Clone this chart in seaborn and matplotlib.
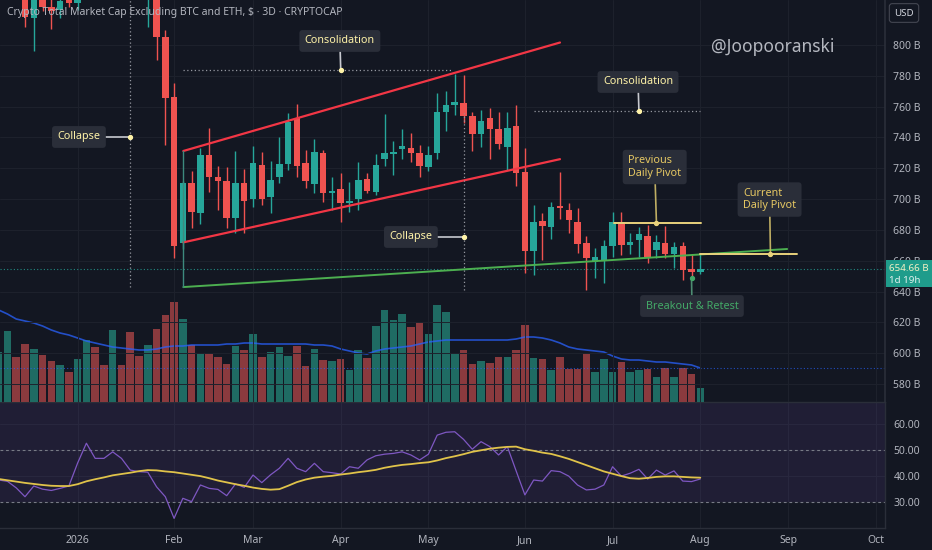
import numpy as np
import pandas as pd
import seaborn as sns
import matplotlib.pyplot as plt
from matplotlib.patches import Rectangle
from matplotlib.transforms import blended_transform_factory

# ---- data (3D bars, values in $B) ----
bar_start = "2025-12-03"

opens = [840, 850, 858, 840, 817.5, 838, 824.7, 822.7, 833, 827.3,
         833, 850, 842, 841, 848, 843, 836, 835, 845, 805,
         766.4, 671.7, 710.6, 690.8, 728.4, 714.1, 711.9, 687.5, 710.6, 699.8,
         722.1, 701.2, 714.1, 722.8, 752.4, 723.2, 709.8, 729.7, 704.1, 706.5,
         697.5, 699.8, 712.8, 704.8, 726.2, 729.5, 732.5, 733.3, 730.1, 720.6,
         729.7, 756.7, 761.0, 762.5, 753.9, 742.2, 752.4, 745.3, 734.0, 747.6,
         717.8, 666.0, 685.6, 682.1, 695.5, 692.9, 685.3, 671.7, 659.4, 659.8,
         669.7, 685.3, 670.2, 673.4, 676.0, 666.9, 671.3, 664.4, 669.5, 654.6,
         652.5]
highs = [856, 862, 860, 842, 845, 840, 832, 835, 838, 840,
         856, 855, 848, 853, 850, 846, 842, 852, 848, 809.7,
         775.1, 712.0, 718.4, 733.3, 745.9, 721.5, 720.6, 731.4, 719.3, 734.4,
         730.7, 724.9, 740.5, 755.7, 761.7, 731.8, 738.8, 731.8, 714.5, 716.7,
         711.3, 723.9, 716.7, 729.3, 755.2, 737.9, 745.5, 742.7, 735.1, 734.4,
         768.6, 770.3, 781.2, 780.5, 756.7, 757.8, 758.9, 756.7, 756.7, 761.1,
         733.0, 696.2, 690.8, 698.3, 717.8, 697.7, 694.0, 676.0, 668.1, 673.4,
         691.8, 691.8, 677.8, 682.1, 683.2, 676.7, 682.5, 672.3, 672.3, 664.4,
         664.4]
lows = [834, 845, 836, 811.7, 796.1, 822, 810.4, 817.5, 824.7, 822.7,
        831, 836, 835, 837, 838, 832, 831, 812, 790.3, 735.1,
        661.6, 667.6, 681.0, 683.8, 704.8, 692.9, 681.0, 677.8, 677.8, 694.7,
        696.2, 690.8, 710.2, 718.9, 714.5, 707.0, 703.7, 698.3, 692.9, 685.3,
        691.8, 692.9, 703.7, 702.6, 721.5, 715.6, 726.0, 723.9, 714.1, 718.4,
        725.8, 744.4, 754.6, 749.2, 731.4, 733.6, 725.8, 732.3, 718.9, 708.5,
        652.2, 650.7, 660.5, 673.9, 687.1, 678.2, 664.8, 641.0, 648.6, 645.3,
        662.6, 663.7, 664.4, 662.6, 658.7, 661.6, 661.6, 655.1, 647.5, 648.6,
        651.4]
closes = [850, 858, 840, 818.0, 838, 824.7, 822.1, 828.6, 827.3, 833,
          850, 842, 841, 848, 843, 836, 835, 845, 805.2, 765.8,
          669.5, 710.4, 691.4, 728.4, 714.1, 711.9, 687.5, 710.2, 698.9, 723.2,
          699.8, 712.4, 722.8, 750.2, 721.7, 711.7, 730.4, 704.1, 705.5, 697.7,
          699.0, 712.4, 705.4, 721.9, 729.7, 730.5, 734.6, 730.1, 721.7, 728.8,
          756.7, 761.1, 763.0, 753.9, 742.2, 750.9, 745.3, 735.7, 746.3, 717.1,
          666.3, 684.9, 682.5, 695.1, 694.5, 686.4, 670.6, 661.6, 662.6, 669.7,
          685.3, 670.2, 672.3, 677.2, 662.6, 672.3, 664.4, 668.7, 654.0, 652.9,
          654.66]

volumes = [50, 71, 45, 58, 53, 47, 41, 37, 30, 43,
           62, 55, 37, 72, 37, 70, 46, 57, 73, 87,
           100, 83, 57, 48, 48, 45, 38, 56, 52, 68,
           45, 50, 55, 46, 56, 36, 53, 42, 41, 43,
           32, 52, 44, 76, 92, 82, 88, 75, 80, 68,
           97, 90, 48, 52, 38, 41, 39, 45, 45, 52,
           77, 44, 43, 32, 45, 33, 33, 48, 30, 43,
           30, 40, 30, 32, 33, 25, 34, 25, 34, 28,
           14]
volume_ma = [92, 88, 83, 81, 79, 76, 72, 69, 67, 64,
             61, 59, 57, 55, 54, 53, 52, 52, 53, 55,
             56, 56, 57, 57, 57, 57, 58, 58, 59, 59,
             58, 58, 58, 58, 58, 58, 57, 57, 56, 53,
             51, 49, 48, 51, 53, 54, 55, 56, 58, 60,
             61, 62, 62, 62, 62, 62, 62, 62, 62, 63,
             65, 65, 64, 62, 59, 55, 53, 52, 51, 50,
             46, 43, 42, 42, 41, 40, 40, 39, 38, 37,
             34]

rsi = [38.5, 38.0, 35.5, 32.1, 36.2, 35.0, 34.5, 35.3, 36.2, 45.0,
       52.6, 46.8, 46.8, 49.3, 46.8, 42.3, 41.7, 41.5, 35.9, 32.1,
       23.8, 31.5, 30.2, 36.6, 35.3, 34.9, 32.5, 37.0, 35.7, 40.4,
       37.5, 40.5, 43.0, 46.8, 43.0, 41.7, 44.9, 41.7, 41.3, 40.8,
       43.6, 43.0, 46.2, 47.8, 48.4, 48.7, 49.3, 48.1, 46.2, 48.4,
       55.7, 56.8, 57.0, 54.1, 50.3, 53.2, 51.3, 48.1, 51.3, 42.0,
       32.8, 38.5, 38.1, 42.1, 41.7, 40.0, 36.6, 34.7, 35.0, 36.6,
       43.6, 40.0, 41.1, 42.6, 38.9, 42.3, 40.4, 42.0, 38.1, 37.9,
       38.9]
rsi_ma = [38.9, 38.4, 37.9, 37.4, 37.0, 36.6, 36.3, 36.2, 36.2, 36.9,
          38.0, 38.8, 39.5, 40.3, 40.8, 41.3, 41.9, 42.3, 42.2, 41.8,
          41.5, 41.0, 40.5, 40.0, 39.2, 38.3, 37.6, 36.9, 36.3, 35.6,
          35.1, 34.8, 35.0, 36.3, 37.7, 38.7, 39.4, 39.8, 40.1, 40.6,
          41.0, 41.5, 41.9, 42.4, 43.2, 43.8, 44.3, 44.6, 45.0, 45.3,
          46.0, 46.9, 47.6, 48.4, 49.3, 49.9, 50.5, 50.9, 51.2, 51.3,
          50.3, 49.7, 49.0, 48.5, 47.6, 46.6, 45.4, 44.2, 43.0, 41.8,
          40.9, 40.0, 39.2, 39.0, 39.3, 39.7, 39.9, 39.9, 39.7, 39.5,
          39.4]

price_ticks = [580, 600, 620, 640, 660, 680, 700, 720, 740, 760, 780, 800]
rsi_ticks = [30, 40, 50, 60]
last_price = 654.66
countdown = "1d 19h"
title = "Crypto Total Market Cap Excluding BTC and ETH, $ · 3D · CRYPTOCAP"

# ---- style ----
bg = "#131722"
grid_c = "#1e222d"
txt_c = "#b2b5be"
up_c, dn_c = "#26a69a", "#ef5350"
box_c = "#2a2e39"

sns.set_theme(style="dark", rc={"axes.facecolor": bg, "figure.facecolor": bg,
                                "axes.edgecolor": box_c, "text.color": txt_c})
plt.rcParams['font.family'] = ['Noto Sans', 'DejaVu Sans']

n = len(closes)
x = np.arange(n)
o = np.array(opens)
c = np.array(closes)
up = c >= o
cols = np.where(up, up_c, dn_c)
vcols = np.where(up, "#1f6b63", "#8a3a3e")

dates = pd.date_range(bar_start, periods=n, freq="3D")
month_starts = pd.date_range("2026-01-01", "2026-10-01", freq="MS")
month_pos = [(m - dates[0]).days // 3 for m in month_starts]
month_lab = ["2026" if m.month == 1 else m.strftime("%b") for m in month_starts]

fig = plt.figure(figsize=(9.32, 5.5), dpi=100)
ax = fig.add_axes([0, 148 / 550, 885 / 932, 402 / 550])
axr = fig.add_axes([0, 21.7 / 550, 885 / 932, 126.3 / 550], sharex=ax)
axv = ax.twinx()
ax.set_zorder(axv.get_zorder() + 1)
ax.patch.set_visible(False)
axv.set_facecolor(bg)

# volume overlay
axv.bar(x, volumes, width=0.86, color=vcols, linewidth=0, zorder=2)
sns.lineplot(x=x, y=volume_ma, ax=axv, color="#2962ff", lw=1.2, alpha=0.75, zorder=3)
axv.axhline(volume_ma[-1], color="#2962ff", ls=(0, (1, 2)), lw=0.8, alpha=0.7)
axv.set_ylim(0, 402)
axv.set_yticks([])
axv.set_ylabel("")
axv.grid(False)

# candles
ax.vlines(x, lows, highs, colors=cols, lw=1, zorder=3)
ax.bar(x, np.maximum(np.abs(c - o), 0.7), bottom=np.minimum(o, c), width=0.74,
       color=cols, linewidth=0, zorder=4)
ax.axhline(last_price, color=up_c, ls=(0, (1, 2)), lw=0.8, alpha=0.8, zorder=2)

ax.set_xlim(0.15, 101.06)
ax.set_ylim(568.3, 829.2)
ax.yaxis.tick_right()
ax.set_yticks(price_ticks)
ax.set_yticklabels([f"{v} B" for v in price_ticks])
ax.set_xticks(month_pos)
ax.tick_params(axis="y", length=0, pad=6, labelsize=7.5, labelcolor=txt_c)
ax.tick_params(axis="x", length=0, labelbottom=False)
ax.grid(True, color=grid_c, lw=0.7)
for s in ["top", "left", "bottom"]:
    ax.spines[s].set_visible(False)
ax.spines["right"].set_color(box_c)
for s in axv.spines.values():
    s.set_visible(False)

# drawings: channel, support line
red_line = "#f23645"
ax.plot([21.05, 64.0], [731.2, 801.6], color=red_line, lw=1.6, zorder=5)
ax.plot([21.05, 64.0], [671.9, 725.9], color=red_line, lw=1.6, zorder=5)
ax.plot([21.05, 89.9], [642.9, 667.6], color="#4caf50", lw=1.4, zorder=5)
ax.plot([21.05, 21.05], [642.9, 731.2], color="#3d8a7e", lw=1, zorder=5)

dot_gray = dict(color="#9598a1", ls=(0, (1, 2)), lw=0.9, zorder=5)
ax.plot([15, 15], [642.9, 829.2], **dot_gray)
ax.plot([21, 51.8], [783.8, 783.8], **dot_gray)
ax.plot([53, 53], [641.0, 755.9], **dot_gray)
ax.plot([61, 80], [757.4, 757.4], **dot_gray)

pivot_c = "#e8d27c"
ax.plot([70.2, 80.05], [684.3, 684.3], color=pivot_c, lw=1.4, zorder=5)
ax.plot([80.0, 91.0], [664.2, 664.2], color=pivot_c, lw=1.4, zorder=5)


def callout(dot, box, text, tcolor, lcolor, dcolor):
    ax.plot([dot[0], box[0]], [dot[1], box[1]], color=lcolor, lw=1.2, zorder=7)
    ax.plot(dot[0], dot[1], "o", ms=2.8, color=dcolor, zorder=9)
    ax.text(box[0], box[1], text, color=tcolor, fontsize=7.8, fontweight="bold",
            ha="center", va="center", multialignment="left", zorder=8,
            bbox=dict(boxstyle="round,pad=0.5,rounding_size=0.3", fc=box_c, ec="none"))


pale = "#fff3a8"
callout((15, 740.3), (9.15, 740.3), "Collapse", pale, "#c7c9cf", pale)
callout((39, 783.8), (38.9, 802.6), "Consolidation", pale, "#c7c9cf", pale)
callout((53, 675.4), (47.0, 675.4), "Collapse", pale, "#c7c9cf", pale)
callout((73, 757.4), (72.9, 776.0), "Consolidation", pale, "#c7c9cf", pale)
callout((75, 684.3), (74.8, 720.8), "Previous\nDaily Pivot", "#e6c863", "#bfae63", pivot_c)
callout((88, 664.2), (87.9, 699.7), "Current\nDaily Pivot", "#e6c863", "#bfae63", pivot_c)
callout((79, 648.6), (79.05, 630.6), "Breakout & Retest", "#43a867", "#4d8c72", "#43a867")

# last price tag on the price scale
tr = blended_transform_factory(ax.transAxes, ax.transData)
ax.add_patch(Rectangle((1.001, last_price - 11.8), 0.055, 17.6, transform=tr,
                       fc="#1f9c8b", ec="none", clip_on=False, zorder=10))
ax.text(1.0045, last_price + 0.6, f"{last_price:.2f} B", transform=tr, ha="left",
        va="center", fontsize=7, color="#f4f1c4", clip_on=False, zorder=11)
ax.text(1.0045, last_price - 7.2, countdown, transform=tr, ha="left",
        va="center", fontsize=7, color="#e3f2ef", clip_on=False, zorder=11)

# RSI pane
axr.set_facecolor(bg)
axr.axhspan(30, 70, color="#7e57c2", alpha=0.12, lw=0)
for lvl in (50, 30):
    axr.axhline(lvl, color="#787b86", ls=(0, (2.5, 2.5)), lw=0.8)
sns.lineplot(x=x, y=rsi, ax=axr, color="#7e57c2", lw=0.9)
sns.lineplot(x=x, y=rsi_ma, ax=axr, color="#e0c34a", lw=1.3)
axr.set_ylim(20.0, 68.4)
axr.yaxis.tick_right()
axr.set_yticks(rsi_ticks)
axr.set_yticklabels([f"{v:.2f}" for v in rsi_ticks])
axr.set_xticks(month_pos)
axr.set_xticklabels(month_lab)
for lab in axr.get_xticklabels():
    if lab.get_text() == "2026":
        lab.set_fontweight("bold")
axr.tick_params(axis="both", length=0, labelsize=7.5, labelcolor=txt_c)
axr.tick_params(axis="y", pad=6)
axr.tick_params(axis="x", pad=5)
axr.grid(True, color=grid_c, lw=0.7)
axr.set_xlabel("")
axr.set_ylabel("")
ax.set_xlabel("")
ax.set_ylabel("")
axr.spines["left"].set_visible(False)
for s in ["top", "bottom", "right"]:
    axr.spines[s].set_color(box_c)
    axr.spines[s].set_linewidth(1)

# header texts
fig.text(7 / 932, 1 - 12 / 550, title, fontsize=7.5, color=txt_c, va="center", ha="left")
fig.text(711 / 932, 1 - 47 / 550, "@Joopooranski", fontsize=12.5, fontweight="bold",
         color="#d1d4dc", alpha=0.85, va="center", ha="left")
fig.text(904 / 932, 1 - 13 / 550, "USD", fontsize=7, color="#d1d4dc", va="center", ha="center",
         bbox=dict(boxstyle="round,pad=0.5,rounding_size=0.3", fc=bg, ec="#434651", lw=0.8))

fig.savefig("out.png", dpi=100, facecolor=bg)
